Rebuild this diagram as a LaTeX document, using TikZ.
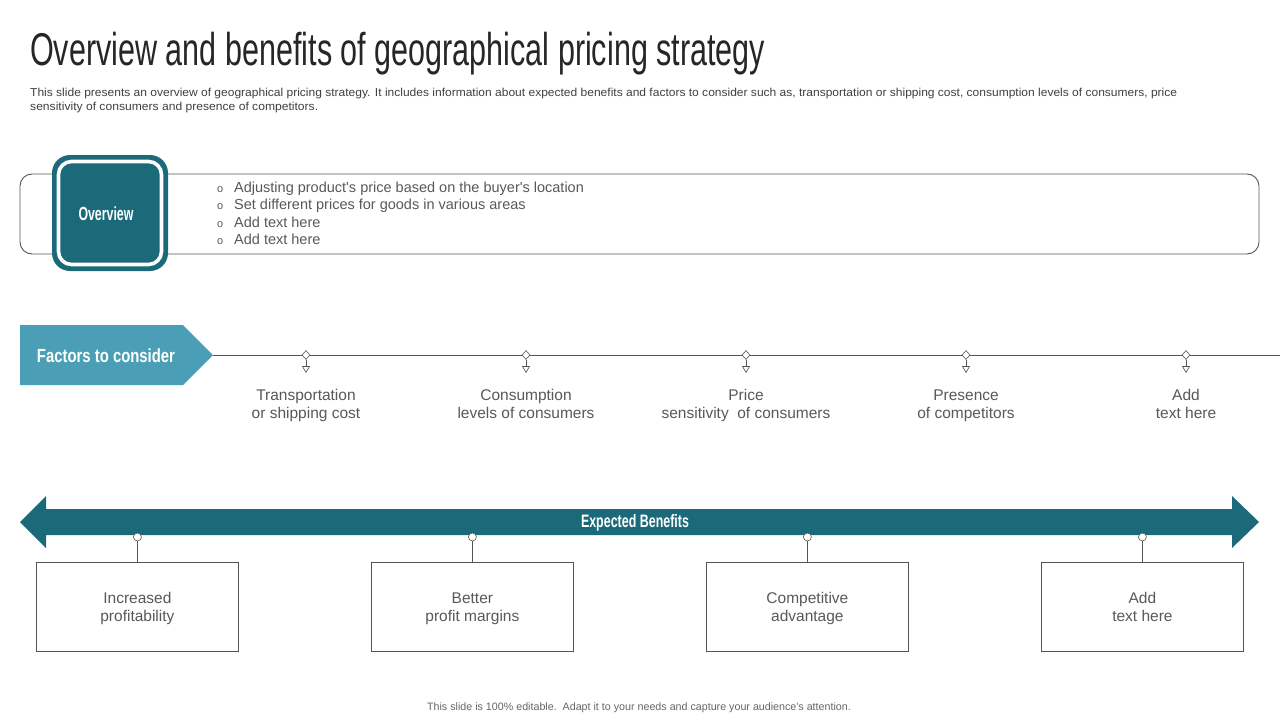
\documentclass[tikz,border=0pt]{standalone}
\usepackage{fontspec}
\setmainfont{Liberation Sans}[Ligatures=TeXOff]
\usepackage{graphicx}
\usetikzlibrary{shapes.geometric,calc}
\definecolor{teal1}{HTML}{1B6A7A}
\definecolor{teal2}{HTML}{4A9FB6}
\definecolor{txt}{HTML}{595959}
\definecolor{ln}{HTML}{555555}
\begin{document}
\begin{tikzpicture}[x=1pt,y=-1pt,
  body/.style={font=\fontsize{15.5}{18.5}\selectfont, text=txt, align=center, inner sep=0pt, anchor=base},
  bullet/.style={font=\fontsize{14.5}{17}\selectfont, text=txt, anchor=base west, inner sep=0pt},
  diam/.style={draw=ln, fill=white, diamond, minimum width=8pt, minimum height=9pt, inner sep=0pt, line width=0.6pt},
  tri/.style={draw=ln, fill=white, regular polygon, regular polygon sides=3, shape border rotate=180, minimum size=8pt, inner sep=0pt, line width=0.6pt},
  dot/.style={draw=ln, fill=white, circle, minimum size=8pt, inner sep=0pt, line width=0.6pt},
  benbox/.style={draw=ln, line width=0.8pt, minimum width=202pt, minimum height=89pt, anchor=north west, inner sep=0pt},
  conn/.style={draw=ln, line width=0.8pt}]
\useasboundingbox (0,0) rectangle (1280,720);
\fill[white] (0,0) rectangle (1280,720);
% title
\node[anchor=base west, inner sep=0pt, text=black!85] (title) at (30,65)
  {\resizebox{735pt}{\height}{\fontsize{46}{50}\selectfont Overview and benefits of geographical pricing strategy}};
\node[anchor=base west, inner sep=0pt, text=black!75] (sub1) at (30,96)
  {\resizebox{1147pt}{\height}{\fontsize{11.5}{13}\selectfont This slide presents an overview of geographical pricing strategy. It includes information about expected benefits and factors to consider such as, transportation or shipping cost, consumption levels of consumers, price}};
\node[anchor=base west, inner sep=0pt, text=black!75] (sub2) at (30,110)
  {\resizebox{288pt}{\height}{\fontsize{11.5}{13}\selectfont sensitivity of consumers and presence of competitors.}};
% overview
\draw[ln, line width=0.9pt, rounded corners=12pt] (20,174) rectangle (1259,254);
\fill[teal1, rounded corners=18pt] (52,155) rectangle (168,271);
\draw[white, line width=3.6pt, rounded corners=13pt] (58.5,161.5) rectangle (161.5,264.5);
\node[text=white, inner sep=0pt] (ov) at (106,214)
  {\resizebox{55pt}{\height}{\fontsize{19}{20}\selectfont\bfseries Overview}};
\foreach \y/\t [count=\i] in {192/{Adjusting product's price based on the buyer's location},
  209/{Set different prices for goods in various areas},
  227/{Add text here}, 244/{Add text here}}{
  \node[bullet, font=\fontsize{11}{12}\selectfont] (bm\i) at (217,\y) {o};
  \node[bullet] (bt\i) at (234,\y) {\t};
}
% factors
\fill[teal2] (20,325) -- (183,325) -- (213,355) -- (183,385) -- (20,385) -- cycle;
\coordinate (facTip) at (213,355);
\coordinate (lineEnd) at (1280,355);
\node[text=white, inner sep=0pt] (fac) at (106,356)
  {\resizebox{138pt}{\height}{\fontsize{19}{20}\selectfont\bfseries Factors to consider}};
\draw[conn] (facTip) -- (lineEnd);
\foreach \x/\a/\b [count=\i] in {306/Transportation/or shipping cost,
  526/Consumption/levels of consumers,
  746/Price/sensitivity\ \ of consumers,
  966/Presence/of competitors,
  1186/Add/text here}{
  \node[diam] (d\i) at (\x,355) {};
  \node[tri] (t\i) at (\x,368.5) {};
  \draw[conn, line width=0.6pt] (d\i.south) -- (t\i.north);
  \node[body] (f\i) at (\x,418.5) {\a\\\b};
}
% expected benefits
\fill[teal1] (20,522) -- (46,496) -- (46,509) -- (1232,509) -- (1232,496) -- (1259,522) -- (1232,548) -- (1232,535) -- (46,535) -- (46,548) -- cycle;
\node[text=white, inner sep=0pt] (eb) at (635,523)
  {\resizebox{108pt}{\height}{\fontsize{18}{20}\selectfont\bfseries Expected Benefits}};
\foreach \x/\a/\b [count=\i] in {36/Increased/profitability,
  371/Better/profit margins,
  706/Competitive/advantage,
  1041/Add/text here}{
  \node[benbox] (b\i) at (\x,562) {};
  \node[body] (bl\i) at ($(b\i.north)+(0,59.5)$) {\a\\\b};
  \node[dot] (c\i) at ($(b\i.north)+(0,-25)$) {};
  \draw[conn] (c\i.south) -- (b\i.north);
}
% footer
\node[inner sep=0pt, text=black!60, font=\fontsize{10.7}{12}\selectfont] (foot) at (639,708)
  {This slide is 100\% editable.\ \ Adapt it to your needs and capture your audience's attention.};
\end{tikzpicture}
\end{document}
